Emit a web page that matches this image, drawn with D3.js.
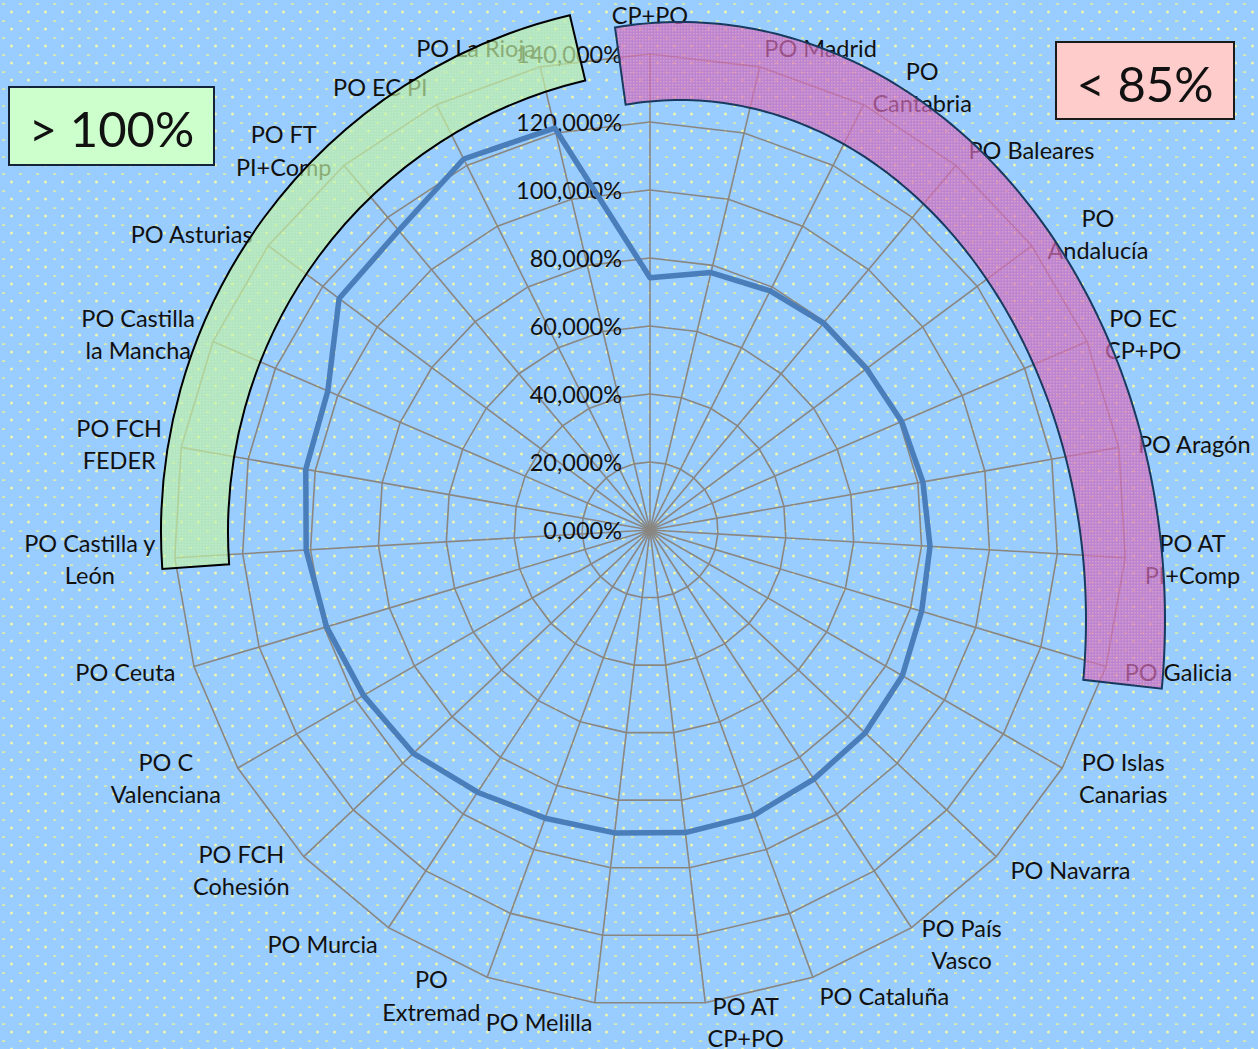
<!DOCTYPE html>
<html><head><meta charset="utf-8">
<script src="https://cdn.jsdelivr.net/npm/d3@7"></script>
<style>
body{margin:0;background:#99ccff;overflow:hidden}
svg{display:block}
</style>
</head><body>
<svg id="chart" width="1258" height="1049"></svg>
<script>
// ---------- data ----------
const categories = ["CP+PO","PO Madrid","PO\nCantabria","PO Baleares","PO\nAndalucía","PO EC\nCP+PO","PO Aragón","PO AT\nPI+Comp","PO Galicia","PO Islas\nCanarias","PO Navarra","PO País\nVasco","PO Cataluña","PO AT\nCP+PO","PO Melilla","PO\nExtremad","PO Murcia","PO FCH\nCohesión","PO C\nValenciana","PO Ceuta","PO Castilla y\nLeón","PO FCH\nFEDER","PO Castilla\nla Mancha","PO Asturias","PO FT\nPI+Comp","PO EC PI","PO La Rioja"];
const values = [74.2,77.8,78.7,79.4,79.4,80.6,81.5,82.5,83.4,85.7,87.0,87.7,89.3,89.6,89.7,90.2,92.3,95.7,97.3,99.3,101.3,102.8,103.2,114.0,115.0,122.1,121.5];
const tickValues = [0,20,40,60,80,100,120,140];
const boxLabels = ["> 100%","< 85%"];

// ---------- layout ----------
const W = 1258, H = 1049;
const cx = 650, cy = 530;
const font = "Lato, 'Open Sans', sans-serif";
const fs = 23.5;
const svg = d3.select("#chart");
const defs = svg.append("defs");

// background dotted pattern
const bp = defs.append("pattern").attr("id","bgdots").attr("patternUnits","userSpaceOnUse")
  .attr("width",17).attr("height",17);
bp.append("rect").attr("width",17).attr("height",17).attr("fill","#99ccff");
bp.append("rect").attr("x",2).attr("y",3.4).attr("width",3.2).attr("height",1.4).attr("fill","#e6f0a0");
bp.append("circle").attr("cx",11.5).attr("cy",12).attr("r",1.5).attr("fill","#eef6b0");

// pink grid pattern
const pp = defs.append("pattern").attr("id","pinkgrid").attr("patternUnits","userSpaceOnUse")
  .attr("width",3).attr("height",3);
pp.append("rect").attr("width",3).attr("height",3).attr("fill","#cc66bb");
pp.append("rect").attr("width",1.5).attr("height",1.5).attr("fill","#f08cbc");

// green check pattern
const gp = defs.append("pattern").attr("id","greengrid").attr("patternUnits","userSpaceOnUse")
  .attr("width",3).attr("height",3);
gp.append("rect").attr("width",3).attr("height",3).attr("fill","#bff2a0");
gp.append("rect").attr("width",1.5).attr("height",1.5).attr("fill","#d0f8b4");

svg.append("rect").attr("width",W).attr("height",H).attr("fill","url(#bgdots)");

const n = categories.length;
const angle = d3.scaleLinear().domain([0, n]).range([0, 2*Math.PI]);
const r = d3.scaleLinear().domain([0, 140]).range([0, 476]);
const R = r(140);

const g = svg.append("g").attr("transform",`translate(${cx},${cy})`);

// grid rings
const ring = d3.lineRadial().angle((d,i)=>angle(i)).radius(d=>r(d)).curve(d3.curveLinearClosed);
g.append("g").selectAll("path").data(tickValues.filter(t=>t>0)).join("path")
  .attr("d", t => ring(categories.map(()=>t)))
  .attr("fill","none").attr("stroke","#8a8680").attr("stroke-width",1.6);

// spokes
g.append("g").selectAll("line").data(categories).join("line")
  .attr("x1",0).attr("y1",0)
  .attr("x2",(d,i)=>R*Math.sin(angle(i)))
  .attr("y2",(d,i)=>-R*Math.cos(angle(i)))
  .attr("stroke","#8a8680").attr("stroke-width",1.6);

// axis tick labels
const fmt = d3.formatLocale({decimal:",",thousands:".",grouping:[3],currency:["","€"]}).format(".3%");
g.append("g").selectAll("text").data(tickValues).join("text")
  .attr("x",-28).attr("y",t=>-r(t))
  .attr("text-anchor","end").attr("dominant-baseline","central")
  .attr("font-family",font).attr("font-size",fs).attr("fill","#111")
  .text(t=>fmt(t/100));

// category labels
const pad = 19.5, lh = 32.5;
const labG = g.append("g");
categories.forEach((c,i)=>{
  const a = angle(i), s = Math.sin(a), co = Math.cos(a);
  const px = (R+pad)*s, py = -(R+pad)*co;
  const lines = c.split("\n");
  const t = labG.append("text").attr("font-family",font).attr("font-size",fs).attr("fill","#111")
    .attr("text-anchor","middle").attr("dominant-baseline","central");
  const ts = lines.map((l,k)=>t.append("tspan").text(l));
  const w = d3.max(ts, x=>x.node().getComputedTextLength());
  let xc, yc;
  if (Math.abs(s) < 0.05) { xc = px; yc = py + (co>0 ? -1 : 1)*(lines.length*lh/2 + 3); }
  else { xc = px + Math.sign(s)*w/2; yc = py; }
  ts.forEach((x,k)=>x.attr("x",xc).attr("y", yc + (k-(lines.length-1)/2)*lh));
});

// data line
const line = d3.lineRadial().angle((d,i)=>angle(i)).radius(d=>r(d)).curve(d3.curveLinearClosed);
g.append("path").datum(values).attr("d",line)
  .attr("fill","none").attr("stroke","#4a7ebb").attr("stroke-width",5.5).attr("stroke-linejoin","round");

// ---------- annotation shapes ----------
const deg = Math.PI/180;
// green block arc (> 100%)
const greenArc = {cx:692, cy:532, inner:464, outer:531, start:-94, end:-13.3};
svg.append("path")
  .attr("transform",`translate(${greenArc.cx},${greenArc.cy})`)
  .attr("d", d3.arc()({innerRadius:greenArc.inner, outerRadius:greenArc.outer, startAngle:greenArc.start*deg, endAngle:greenArc.end*deg}))
  .attr("fill","url(#greengrid)").attr("fill-opacity",0.68)
  .attr("stroke","#000").attr("stroke-width",2);

// pink elliptical block arc (< 85%)
const pinkArc = {cx:680, cy:620, rxO:485, ryO:598, rxI:406, ryI:520, start:-7.7, end:96.6};
const tt = d3.range(pinkArc.start, pinkArc.end+0.001, (pinkArc.end-pinkArc.start)/120);
const outerPts = tt.map(t=>[pinkArc.cx+pinkArc.rxO*Math.sin(t*deg), pinkArc.cy-pinkArc.ryO*Math.cos(t*deg)]);
const innerPts = tt.slice().reverse().map(t=>[pinkArc.cx+pinkArc.rxI*Math.sin(t*deg), pinkArc.cy-pinkArc.ryI*Math.cos(t*deg)]);
svg.append("path")
  .attr("d", d3.line()(outerPts.concat(innerPts)) + "Z")
  .attr("fill","url(#pinkgrid)").attr("fill-opacity",0.7)
  .attr("stroke","#173a5e").attr("stroke-width",2);

// legend boxes
const boxes = [
  {x:9, y:87, w:205, h:78, fill:"#ccffcc", stroke:"#14233a", text:boxLabels[0]},
  {x:1056, y:42, w:178, h:77, fill:"#ffcccc", stroke:"#1a1a1a", text:boxLabels[1]}
];
boxes.forEach(b=>{
  svg.append("rect").attr("x",b.x).attr("y",b.y).attr("width",b.w).attr("height",b.h)
    .attr("fill",b.fill).attr("stroke",b.stroke).attr("stroke-width",2);
  svg.append("text").attr("x",b.x+b.w/2).attr("y",b.y+b.h/2+2)
    .attr("text-anchor","middle").attr("dominant-baseline","central")
    .attr("font-family",font).attr("font-size",49).attr("fill","#111").text(b.text);
});
</script>
</body></html>
